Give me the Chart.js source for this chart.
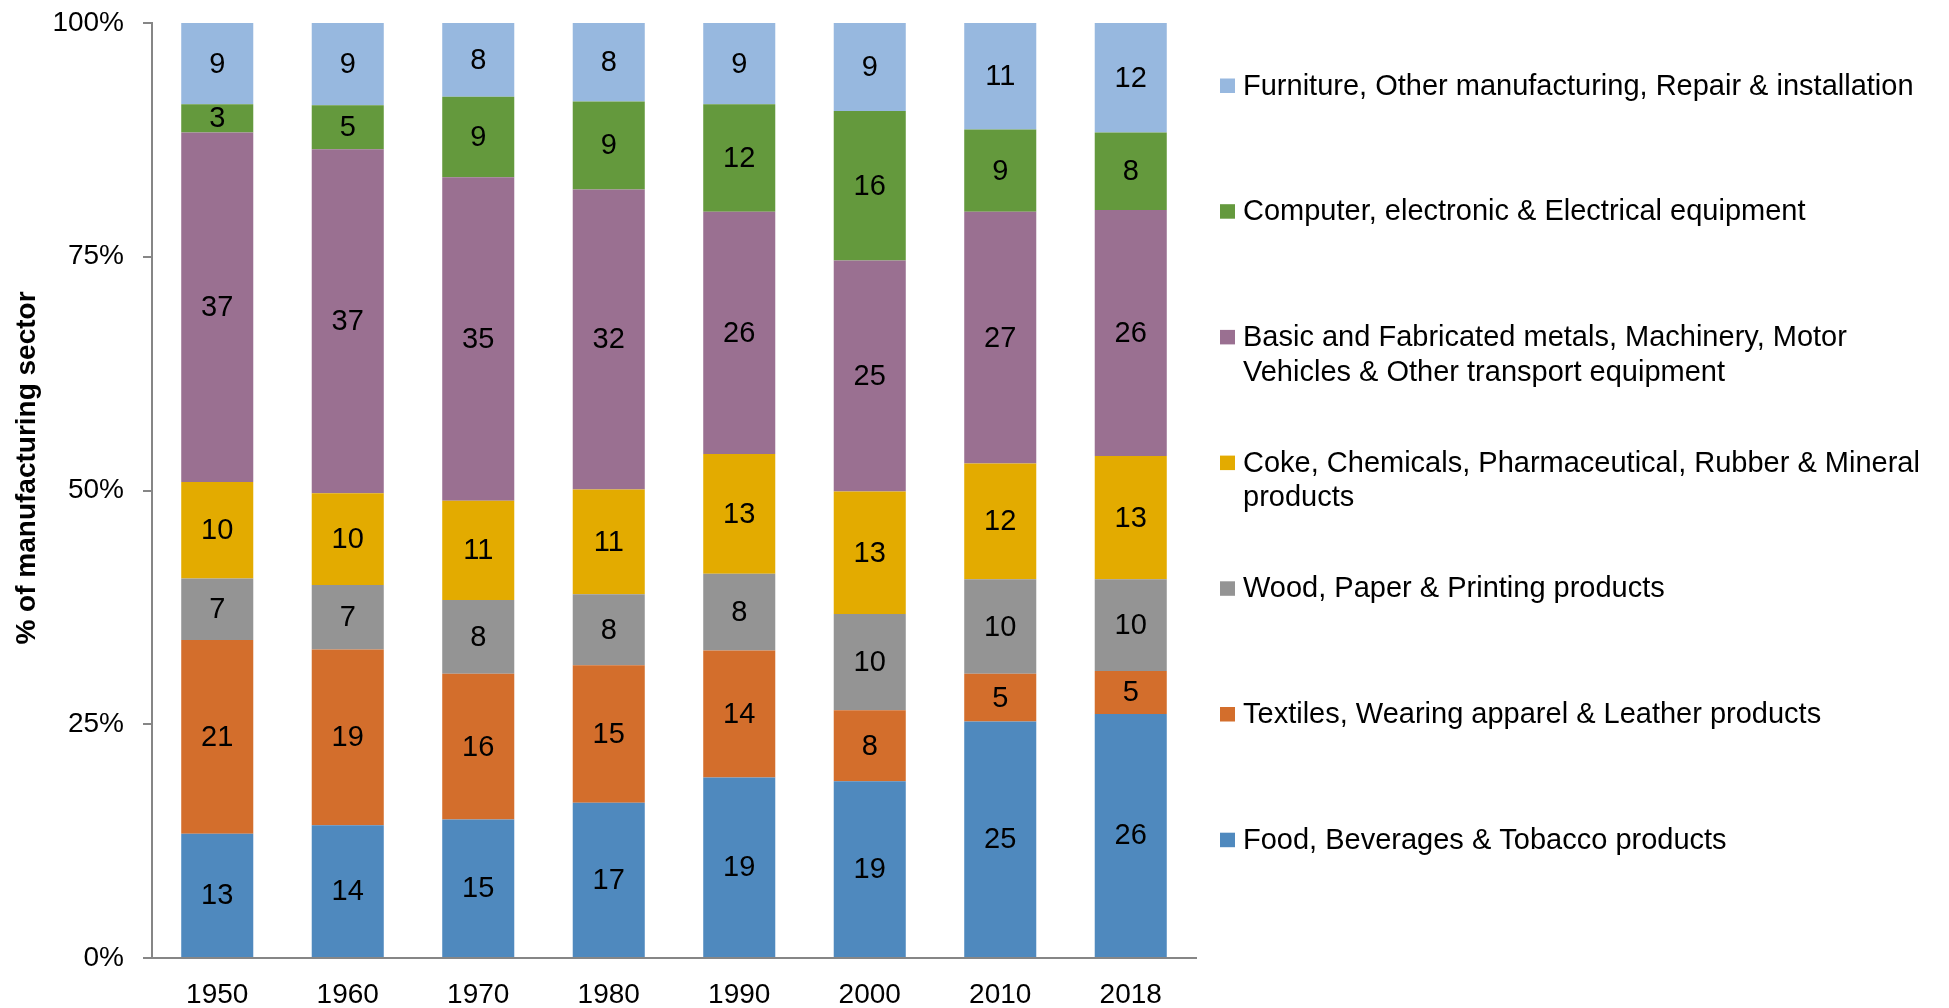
<!DOCTYPE html>
<html>
<head>
<meta charset="utf-8">
<script src="https://cdn.jsdelivr.net/npm/chart.js@4.4.1/dist/chart.umd.min.js"></script>
<style>
  html, body { margin: 0; padding: 0; background: #fff; }
  #wrap { width: 1949px; height: 1008px; }
</style>
</head>
<body>
<div id="wrap"><canvas id="mfgChart" width="1949" height="1008"></canvas></div>
<script>
  // categories
  const years = ["1950", "1960", "1970", "1980", "1990", "2000", "2010", "2018"];

  // series names, bottom of the stack first
  const seriesNames = [
    "Food, Beverages & Tobacco products",
    "Textiles, Wearing apparel & Leather products",
    "Wood, Paper & Printing products",
    "Coke, Chemicals, Pharmaceutical, Rubber & Mineral products",
    "Basic and Fabricated metals, Machinery, Motor Vehicles & Other transport equipment",
    "Computer, electronic & Electrical equipment",
    "Furniture, Other manufacturing, Repair & installation"
  ];

  // shares of manufacturing sector (%)
  const food      = [13.3, 14.2, 14.8, 16.6, 19.3, 18.9, 25.3, 26.1];
  const textiles  = [20.7, 18.8, 15.6, 14.7, 13.6,  7.6,  5.1,  4.6];
  const wood      = [ 6.6,  6.9,  7.9,  7.6,  8.2, 10.3, 10.1,  9.8];
  const coke      = [10.3,  9.8, 10.6, 11.2, 12.8, 13.1, 12.4, 13.2];
  const metals    = [37.4, 36.8, 34.6, 32.1, 25.9, 24.7, 26.9, 26.3];
  const computer  = [ 3.0,  4.7,  8.6,  9.4, 11.5, 16.0,  8.8,  8.3];
  const furniture = [ 8.7,  8.8,  7.9,  8.4,  8.7,  9.4, 11.4, 11.7];

  const yTicks = [0, 25, 50, 75, 100];
  const yTitle = "% of manufacturing sector";

  const colors = ["#4F89BE", "#D36E2C", "#949494", "#E3AB00", "#9A7091", "#64993D", "#97B8DF"];
  const seriesValues = [food, textiles, wood, coke, metals, computer, furniture];

  const FONT = "'Liberation Sans', Arial, sans-serif";
  const AXIS_GREY = "#868686";

  // numbers in the middle of each segment
  const segmentLabels = {
    id: "segmentLabels",
    afterDatasetsDraw(chart) {
      const ctx = chart.ctx;
      ctx.save();
      ctx.font = "29px " + FONT;
      ctx.fillStyle = "#000";
      ctx.textAlign = "center";
      ctx.textBaseline = "middle";
      chart.data.datasets.forEach((ds, di) => {
        const meta = chart.getDatasetMeta(di);
        meta.data.forEach((bar, i) => {
          const v = ds.data[i];
          if (v == null) return;
          const cy = (bar.y + bar.base) / 2;
          ctx.fillText(String(Math.round(v)), bar.x, cy + 1);
        });
      });
      ctx.restore();
    }
  };

  // rotated axis title, sitting a bit above the plot middle like the original
  const axisTitle = {
    id: "axisTitle",
    afterDraw(chart) {
      const ctx = chart.ctx;
      ctx.save();
      ctx.translate(27, 468);
      ctx.rotate(-Math.PI / 2);
      ctx.font = "bold 28px " + FONT;
      ctx.fillStyle = "#000";
      ctx.textAlign = "center";
      ctx.textBaseline = "middle";
      ctx.fillText(yTitle, 0, 0);
      ctx.restore();
    }
  };

  function wrapText(ctx, text, maxWidth) {
    const words = text.split(" ");
    const lines = [];
    let line = "";
    words.forEach(w => {
      const test = line ? line + " " + w : w;
      if (ctx.measureText(test).width > maxWidth && line) {
        lines.push(line);
        line = w;
      } else {
        line = test;
      }
    });
    if (line) lines.push(line);
    return lines;
  }

  // legend on the right, top item = top of the stack
  const sideLegend = {
    id: "sideLegend",
    afterDraw(chart) {
      const ctx = chart.ctx;
      const dsets = chart.data.datasets.slice().reverse();
      ctx.save();
      ctx.font = "29px " + FONT;
      ctx.textBaseline = "alphabetic";
      ctx.textAlign = "left";
      dsets.forEach((ds, i) => {
        const base = 94.5 + i * 125.7;
        ctx.fillStyle = ds.backgroundColor;
        ctx.fillRect(1220, base - 16, 15, 14.5);
        ctx.fillStyle = "#000";
        const lines = wrapText(ctx, ds.label, 700);
        lines.forEach((ln, k) => ctx.fillText(ln, 1243, base + k * 34.7));
      });
      ctx.restore();
    }
  };

  const ctx = document.getElementById("mfgChart").getContext("2d");
  new Chart(ctx, {
    type: "bar",
    data: {
      labels: years,
      datasets: seriesNames.map((name, i) => ({
        label: name,
        data: seriesValues[i],
        backgroundColor: colors[i],
        borderWidth: 0,
        barPercentage: 1,
        categoryPercentage: 0.552
      }))
    },
    options: {
      responsive: false,
      animation: false,
      layout: { padding: { left: 0, right: 753, top: 23, bottom: 0 } },
      plugins: {
        legend: { display: false },
        tooltip: { enabled: false }
      },
      scales: {
        x: {
          stacked: true,
          grid: { display: false, drawTicks: false },
          border: { display: true, color: AXIS_GREY, width: 2 },
          ticks: { color: "#000", font: { family: FONT, size: 28 }, padding: 20, maxRotation: 0 },
          afterFit(scale) {
            scale.height = 50;
            scale.paddingLeft = 0;
            scale.paddingRight = 0;
          }
        },
        y: {
          stacked: true,
          min: 0,
          max: 100,
          afterBuildTicks(scale) { scale.ticks = yTicks.map(v => ({ value: v })); },
          grid: { drawOnChartArea: false, drawTicks: true, tickLength: 9, color: AXIS_GREY, lineWidth: 2 },
          border: { display: true, color: AXIS_GREY, width: 2 },
          ticks: {
            color: "#000",
            font: { family: FONT, size: 28 },
            padding: 19,
            callback: v => v + "%"
          },
          afterFit(scale) {
            scale.width = 152;
            scale.paddingTop = 0;
            scale.paddingBottom = 0;
          }
        }
      }
    },
    plugins: [segmentLabels, axisTitle, sideLegend]
  });
</script>
</body>
</html>
